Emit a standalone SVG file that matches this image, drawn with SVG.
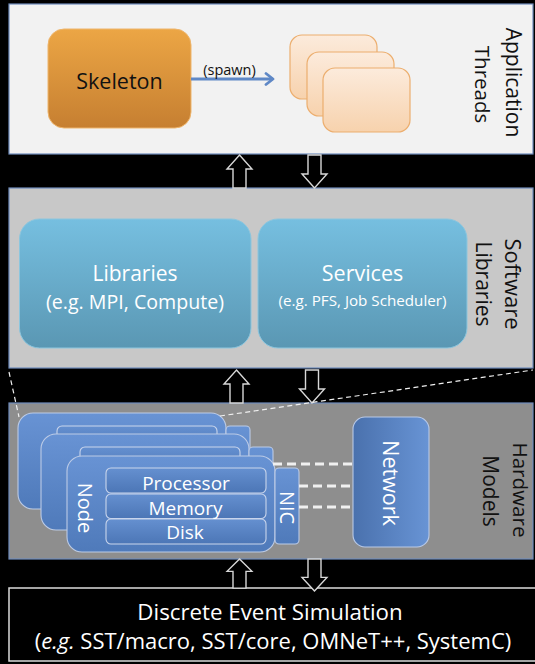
<svg xmlns="http://www.w3.org/2000/svg" width="535" height="664" viewBox="0 0 535 664">
<style>
text{font-family:"Open Sans","Noto Sans","Liberation Sans",sans-serif}
.dk{fill:#111}
.wt{fill:#fff}
.panel{stroke:#6f8cbc;stroke-width:1.2}
.blk{fill:#000;stroke:#dcdcdc;stroke-width:1.5}
.card{fill:url(#peach);stroke:#ecae6e;stroke-width:1.2}
.lib{fill:url(#teal);stroke:#8cc6de;stroke-width:1}
.hw{fill:url(#blueV);stroke:#bccbe6;stroke-width:1.1}
.row{fill:url(#blueV2);stroke:#c9d5ec;stroke-width:1.1}
.dash{stroke:#f0f0f0;stroke-width:3;stroke-dasharray:9 5;fill:none}
.call{stroke:#f0f0f0;stroke-width:1.2;stroke-dasharray:5 3.5;fill:none}
</style>
<defs>
<linearGradient id="orange" x1="0" y1="0" x2="0" y2="1"><stop offset="0" stop-color="#eca645"/><stop offset="1" stop-color="#c67f31"/></linearGradient>
<linearGradient id="peach" x1="0" y1="0" x2="0" y2="1"><stop offset="0" stop-color="#fcebdc"/><stop offset="1" stop-color="#f7d2ad"/></linearGradient>
<linearGradient id="teal" x1="0" y1="0" x2="0" y2="1"><stop offset="0" stop-color="#76bfe0"/><stop offset="1" stop-color="#5a97b3"/></linearGradient>
<linearGradient id="blueV" x1="0" y1="0" x2="0" y2="1"><stop offset="0" stop-color="#6893d4"/><stop offset="1" stop-color="#4f7aba"/></linearGradient>
<linearGradient id="blueV2" x1="0" y1="0" x2="0" y2="1"><stop offset="0" stop-color="#6590d0"/><stop offset="1" stop-color="#4c76b6"/></linearGradient>
<linearGradient id="blueH" x1="0" y1="0" x2="1" y2="0"><stop offset="0" stop-color="#4a71ad"/><stop offset="1" stop-color="#6894d5"/></linearGradient>
<marker id="ah" markerWidth="14" markerHeight="14" refX="10" refY="7" orient="auto" markerUnits="userSpaceOnUse">
<path d="M3,1.5 L10,7 L3,12.5" fill="none" stroke="#5f88c6" stroke-width="2.8" stroke-linecap="round" stroke-linejoin="round"/>
</marker>
<g id="backnode">
<rect x="0" y="0" width="208" height="96" rx="15" class="hw"/>
<rect x="208" y="13" width="24" height="76" rx="4" class="hw"/>
<rect x="39" y="13" width="160" height="25" rx="5" class="row"/>
</g>
<path id="up" d="M0,0 L12.5,14 L6.5,14 L6.5,33 L-6.5,33 L-6.5,14 L-12.5,14 Z"/>
</defs>

<rect width="535" height="664" fill="#000"/>

<g id="panel-app">
<rect x="9" y="4" width="524" height="150" fill="#f2f2f2" class="panel"/>
<text class="dk" font-size="21" text-anchor="middle" transform="translate(505.5,82.5) rotate(90)">Application</text>
<text class="dk" font-size="20.5" text-anchor="middle" transform="translate(475,84.5) rotate(90)">Threads</text>
</g>
<g id="panel-sw">
<rect x="9" y="188" width="524" height="180" fill="#c8c8c8" class="panel"/>
<text class="dk" font-size="22" text-anchor="middle" transform="translate(505,284) rotate(90)">Software</text>
<text class="dk" font-size="21" text-anchor="middle" transform="translate(476,284) rotate(90)">Libraries</text>
</g>
<g id="panel-hw">
<rect x="9" y="403" width="524" height="156" fill="#8e8e8e" class="panel"/>
<text class="dk" font-size="20.6" text-anchor="middle" transform="translate(513,490) rotate(90)">Hardware</text>
<text class="dk" font-size="21" text-anchor="middle" transform="translate(483,491) rotate(90)">Models</text>
</g>

<g id="skeleton">
<rect x="48" y="29" width="143" height="99" rx="16" fill="url(#orange)" stroke="#eeb56c" stroke-width="1"/>
<text class="dk" font-size="21.5" x="119.5" y="89" text-anchor="middle">Skeleton</text>
</g>
<g id="threads">
<rect x="290" y="35" width="87" height="64" rx="12" class="card"/>
<rect x="307" y="52" width="87" height="64" rx="12" class="card"/>
<rect x="323" y="68" width="87" height="64" rx="12" class="card"/>
</g>

<g id="libraries">
<rect x="19.5" y="219" width="231.5" height="129" rx="20" class="lib"/>
<text class="wt" font-size="21" x="135" y="281" text-anchor="middle">Libraries</text>
<text class="wt" font-size="19.6" x="135" y="309" text-anchor="middle">(e.g. MPI, Compute)</text>
</g>
<g id="services">
<rect x="258" y="219" width="209" height="129" rx="20" class="lib"/>
<text class="wt" font-size="21.5" x="362.5" y="281" text-anchor="middle">Services</text>
<text class="wt" font-size="15.2" x="362.5" y="306" text-anchor="middle">(e.g. PFS, Job Scheduler)</text>
</g>

<g id="node-back1"><use href="#backnode" transform="translate(18,413)"/></g>
<g id="node-back2"><use href="#backnode" transform="translate(41,434)"/></g>
<g id="node">
<rect x="67" y="456" width="208" height="96" rx="15" class="hw"/>
<rect x="275" y="468" width="24" height="76" rx="4" class="hw"/>
<rect x="106" y="468" width="160" height="25" rx="5" class="row"/>
<rect x="106" y="494" width="160" height="24.5" rx="5" class="row"/>
<rect x="106" y="519" width="160" height="25" rx="5" class="row"/>
<text class="wt" font-size="20" text-anchor="middle" transform="translate(77.5,508) rotate(90)">Node</text>
<text class="wt" font-size="20" text-anchor="middle" transform="translate(280,507.5) rotate(90)">NIC</text>
<text class="wt" font-size="19" x="186" y="490" text-anchor="middle">Processor</text>
<text class="wt" font-size="19" x="185.5" y="515" text-anchor="middle">Memory</text>
<text class="wt" font-size="19" x="185" y="539" text-anchor="middle">Disk</text>
</g>
<g id="network">
<rect x="353" y="417" width="76" height="130" rx="12" fill="url(#blueH)" stroke="#b9c9e6" stroke-width="1.1"/>
<text class="wt" font-size="21.5" text-anchor="middle" transform="translate(383,483) rotate(90)">Network</text>
</g>

<g id="des">
<rect x="9" y="588" width="530" height="73" class="blk"/>
<text class="wt" font-size="22.3" x="270" y="620" text-anchor="middle">Discrete Event Simulation</text>
<text class="wt" font-size="22" x="273" y="649" text-anchor="middle">(<tspan font-style="italic">e.g.</tspan> SST/macro, SST/core, OMNeT++, SystemC)</text>
</g>

<g id="connectors">
<path d="M191,79 L273,79" stroke="#5f88c6" stroke-width="2.8" fill="none" marker-end="url(#ah)"/>
<text class="dk" font-size="14.5" x="229.5" y="75" text-anchor="middle">(spawn)</text>
<g fill="#000" stroke="#d8d8d8" stroke-width="1.4" stroke-linejoin="miter">
<use href="#up" transform="translate(239.5,155)"/>
<use href="#up" transform="translate(314.5,188) rotate(180)"/>
<use href="#up" transform="translate(236.5,370)"/>
<use href="#up" transform="translate(312,403) rotate(180)"/>
<use href="#up" transform="translate(239.5,559) scale(1,0.88)"/>
<use href="#up" transform="translate(314.5,591) rotate(180) scale(1,0.97)"/>
</g>
<path class="dash" d="M273,464 H353 M299,486 H353 M299,507 H353"/>
<path class="call" d="M9,372 L19,417 M220,416 L533,370"/>
</g>
</svg>
